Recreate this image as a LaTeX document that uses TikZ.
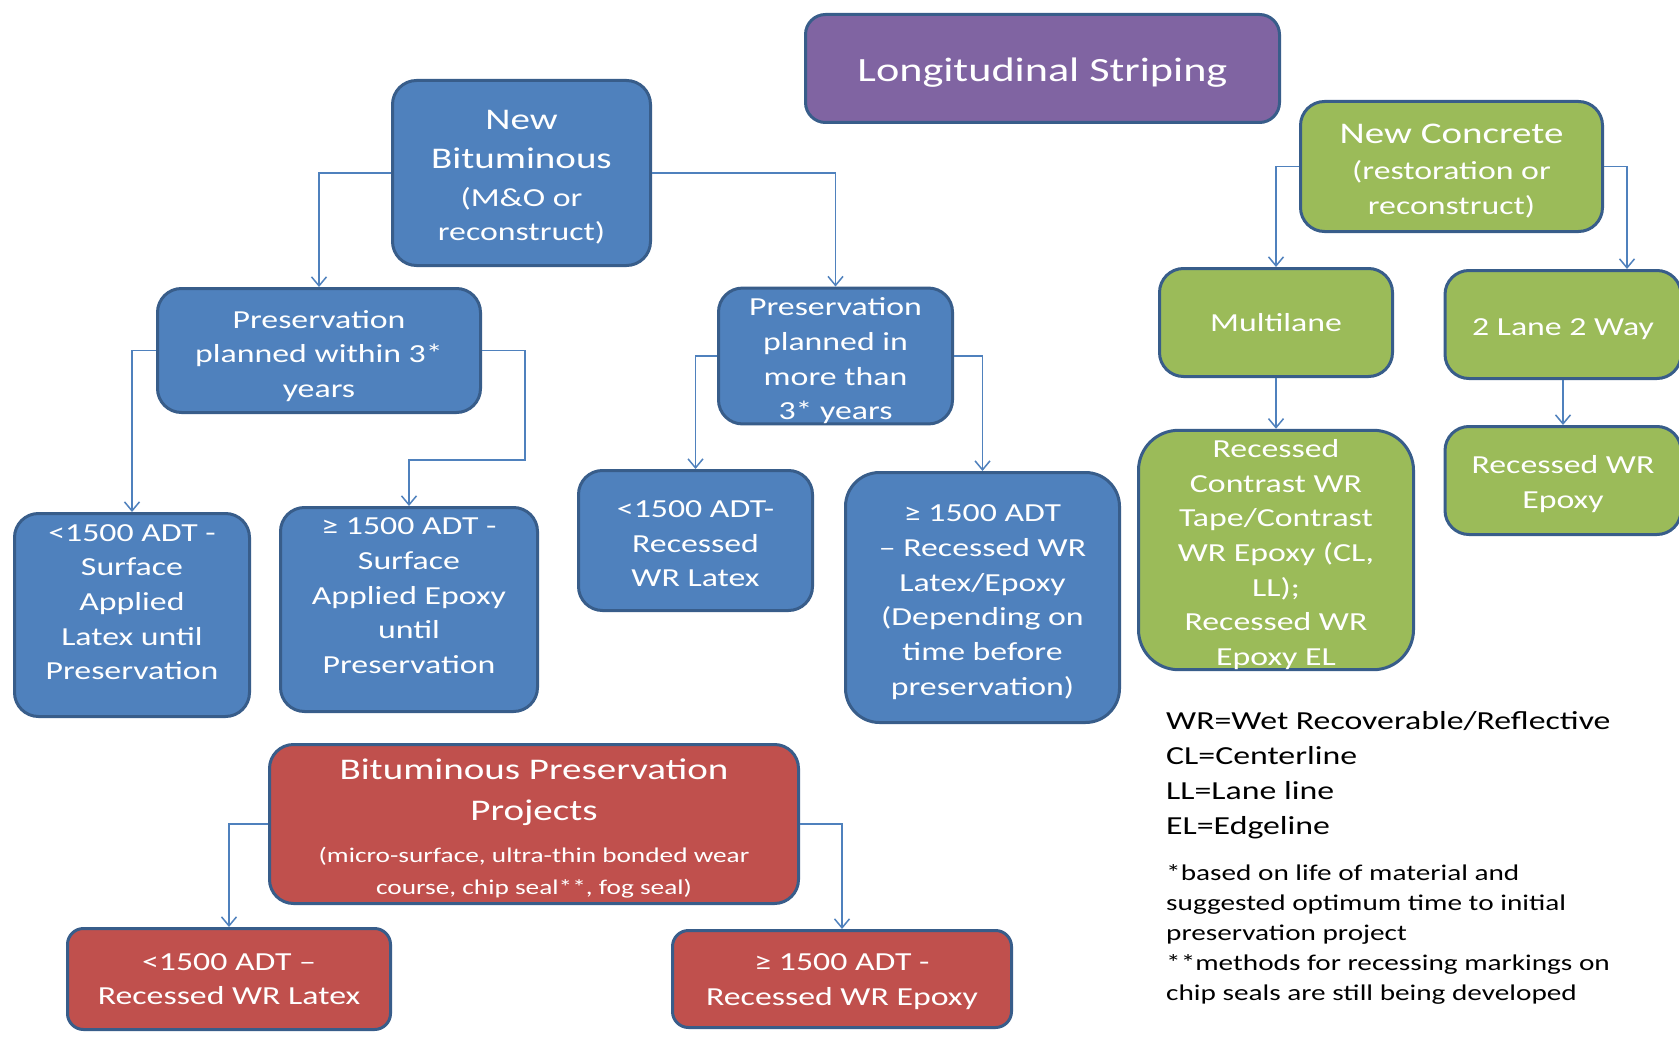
\documentclass[tikz,border=0pt]{standalone}
\usepackage{fontspec}
\setmainfont{Carlito}[FakeStretch=1.3]
\usetikzlibrary{arrows.meta}

\definecolor{bitblue}{HTML}{4F81BD}
\definecolor{edgeblue}{HTML}{385D8A}
\definecolor{congreen}{HTML}{9BBB59}
\definecolor{presred}{HTML}{C0504D}
\definecolor{titlepurple}{HTML}{8064A2}

\newcommand{\hdr}{\fontsize{30}{38}\selectfont}
\newcommand{\smalltxt}{\fontsize{21}{26}\selectfont}
\newcommand{\tp}[1]{\rule{0pt}{#1pt}}% top strut for the first line

\tikzset{
  box/.style={draw=edgeblue, line width=3pt, rounded corners=24pt, text=white,
    align=center, inner sep=0pt, font=\fontsize{26}{34.7}\selectfont},
  bitbox/.style={box, fill=bitblue},
  conbox/.style={box, fill=congreen},
  presbox/.style={box, fill=presred},
  conn/.style={draw=bitblue, line width=1.5pt, -{Straight Barb[length=9pt,width=15pt]}},
  note/.style={anchor=west, align=left, inner sep=0pt, text=black},
}

\begin{document}
\begin{tikzpicture}[x=1pt, y=-1pt]
  \useasboundingbox[fill=white] (0,0) rectangle (1679,1038);

  % title
  \node[box, fill=titlepurple, rounded corners=20pt, minimum width=474, minimum height=108,
    font=\fontsize{34}{40}\selectfont] (title) at (1042.5,68.5) {\tp{31}Longitudinal Striping};

  % bituminous branch
  \node[bitbox, minimum width=258, minimum height=185] (newbit) at (521.5,173)
    {\hdr\tp{28}New\\[4pt] \hdr Bituminous\\[3pt] (M\&O or\\ reconstruct)};
  \node[bitbox, minimum width=323, minimum height=124] (pres3) at (319,350.5)
    {\tp{29}Preservation\\ planned within 3*\\ years};
  \node[bitbox, minimum width=234, minimum height=131] (presmore) at (835.5,356)
    {\tp{27.6}Preservation\\ planned in\\ more than\\ 3* years};
  \node[bitbox, minimum width=235, minimum height=203] (ltsurf) at (132,615)
    {<1500 ADT -\\ Surface\\ Applied\\ Latex until\\ Preservation\\[-9pt] {}};
  \node[bitbox, minimum width=257, minimum height=204] (gesurf) at (409,609.5)
    {≥ 1500 ADT -\\ Surface\\ Applied Epoxy\\ until\\ Preservation\\[-7pt] {}};
  \node[bitbox, minimum width=234, minimum height=140] (ltrec) at (695.5,540.5)
    {\tp{23.4}<1500 ADT-\\ Recessed\\ WR Latex};
  \node[bitbox, minimum width=274, minimum height=250, rounded corners=34pt] (gerec) at (982.5,597.5)
    {\tp{26}≥ 1500 ADT\\ – Recessed WR\\ Latex/Epoxy\\ (Depending on\\ time before\\ preservation)};

  % concrete branch
  \node[conbox, minimum width=302, minimum height=130] (ncon) at (1451.5,166.5)
    {\hdr\tp{28.3}New Concrete\\[1pt] (restoration or\\ reconstruct)};
  \node[conbox, minimum width=233, minimum height=108] (multi) at (1276,322.5) {Multilane};
  \node[conbox, minimum width=236, minimum height=108] (lane2) at (1563,324.5) {\tp{25.6}2 Lane 2 Way};
  \node[conbox, minimum width=275, minimum height=239, rounded corners=40pt] (contrast) at (1276,550)
    {\tp{27}Recessed\\ Contrast WR\\ Tape/Contrast\\ WR Epoxy (CL,\\ LL);\\ Recessed WR\\ Epoxy EL};
  \node[conbox, minimum width=236, minimum height=108] (wrepoxy) at (1563,480.5)
    {\tp{24.8}Recessed WR\\ Epoxy};

  % preservation projects
  \node[presbox, minimum width=529, minimum height=159, font=\fontsize{30}{32}\selectfont] (bitpres) at (534,824)
    {\hdr\tp{30}Bituminous Preservation\\[9pt] \hdr Projects\\[10pt]
     \smalltxt (micro-surface, ultra-thin bonded wear\\ \smalltxt course, chip seal**, fog seal)};
  \node[presbox, minimum width=323, minimum height=101, rounded corners=16pt] (ltred) at (229,979)
    {<1500 ADT –\\ Recessed WR Latex};
  \node[presbox, minimum width=339, minimum height=97, rounded corners=16pt] (gered) at (842,979)
    {\tp{21.5}≥ 1500 ADT -\\ Recessed WR Epoxy};

  % connectors
  \coordinate (jog) at (525,460);
  \draw[conn] (newbit.west) -| (pres3.north);
  \draw[conn] (newbit.east) -| (presmore.north);
  \draw[conn] (pres3.west) -| (ltsurf.north);
  \draw[conn] (pres3.east) -| (jog) -| (gesurf.north);
  \draw[conn] (presmore.west) -| (ltrec.north);
  \draw[conn] (presmore.east) -| (gerec.north);
  \draw[conn] (ncon.west) -| (multi.north);
  \draw[conn] (ncon.east) -| ([xshift=64pt]lane2.north);
  \draw[conn] (multi.south) -- (contrast.north);
  \draw[conn] (lane2.south) -- (wrepoxy.north);
  \draw[conn] (bitpres.west) -| (ltred.north);
  \draw[conn] (bitpres.east) -| (gered.north);

  % legend
  \node[note, font=\fontsize{26}{35}\selectfont] (abbrev) at (1166,775)
    {WR=Wet Recoverable/Reflective\\ CL=Centerline\\ LL=Lane line\\ EL=Edgeline};
  \node[note, font=\fontsize{22.5}{30}\selectfont] (footnote) at (1166,934.5)
    {*based on life of material and\\ suggested optimum time to initial\\ preservation project\\
     **methods for recessing markings on\\ chip seals are still being developed};
\end{tikzpicture}
\end{document}
